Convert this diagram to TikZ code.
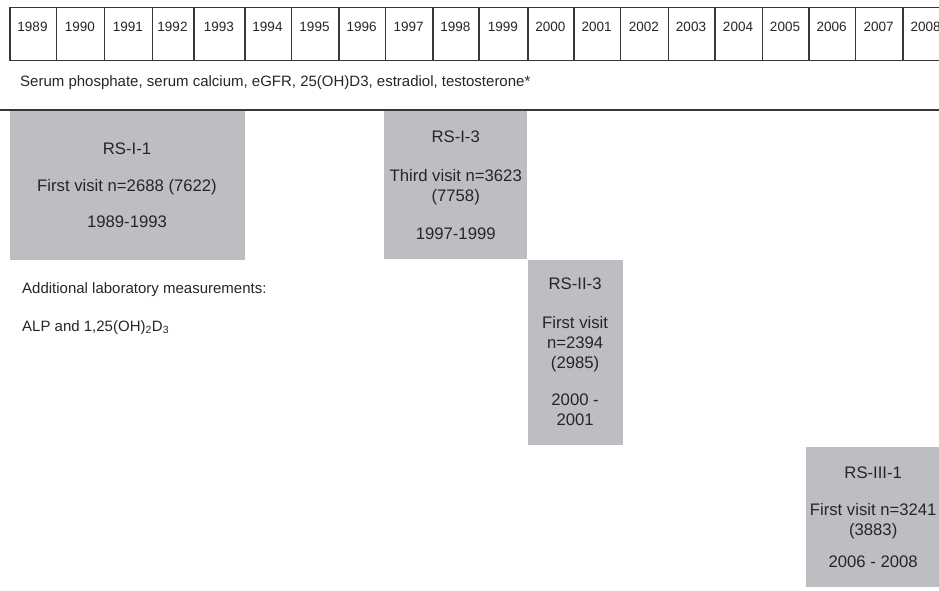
\documentclass[tikz,border=0pt]{standalone}
\usepackage{fontspec}
\setmainfont{Liberation Sans}
\usepackage{tikz}
\usetikzlibrary{positioning,calc}
\definecolor{cohortgray}{RGB}{189,190,194}
\definecolor{gridgray}{RGB}{55,55,55}

\begin{document}
\begin{tikzpicture}[
		x=1pt,y=-1pt,
		every node/.append style={inner sep=0pt,text=black!85},
		yearcell/.style={draw=gridgray,line width=1.3pt,anchor=north west,minimum height=53pt},
		yeartext/.style={anchor=base,font=\fontsize{13.5}{16}\selectfont},
		notetext/.style={anchor=base west,font=\fontsize{15}{18}\selectfont},
		cohort/.style={fill=cohortgray,anchor=north west,align=center,font=\fontsize{16.7}{20}\selectfont}
	]
	\useasboundingbox (0,0) rectangle (939,590);
	\clip (0,0) rectangle (939,590);
	% calendar row
	\foreach \yr/\xa/\xb in {1989/9.3/55.7,1990/55.7/104,1991/104/151.7,1992/151.7/193.3,1993/193.3/244.3,1994/244.3/290.7,1995/290.7/338.3,1996/338.3/385,1997/385/432.3,1998/432.3/478.3,1999/478.3/527.3,2000/527.3/573.3,2001/573.3/620,2002/620/667.7,2003/667.7/714.3,2004/714.3/761.7,2005/761.7/808.3,2006/808.3/855,2007/855/902.3,2008/902.3/949}{
		\node[yearcell,minimum width={\xb-\xa}] (c\yr) at (\xa,7) {};
		\node[yeartext] (t\yr) at ({(\xa+\xb)/2},31) {\yr};
	}
	\node[notetext] (serum) at (20,86) {Serum phosphate, serum calcium, eGFR, 25(OH)D3, estradiol, testosterone*};
	\coordinate (sepL) at (0,110);
	\coordinate (sepR) at (939,110);
	\draw[gridgray,line width=1.8pt] (sepL) -- (sepR);
	% study cohorts
	\node[cohort,minimum width=235pt,minimum height=149pt] (rsI1) at (c1989.west |- 0,111) {RS-I-1\\[17pt]First visit n=2688 (7622)\\[16pt]1989-1993};
	\node[cohort,minimum width=143pt,minimum height=148pt] (rsI3) at (384,111) {RS-I-3\\[19pt]Third visit n=3623\\(7758)\\[18pt]1997-1999};
	\node[cohort,minimum width=95pt,minimum height=185pt] (rsII3) at (rsI3.south east) {RS-II-3\\[19pt]First visit\\n=2394\\(2985)\\[17pt]2000 -\\2001};
	\node[cohort,minimum width=134pt,minimum height=140pt] (rsIII1) at (806,447) {RS-III-1\\[17pt]First visit n=3241\\(3883)\\[12pt]2006 - 2008};
	\node[notetext] (addlab) at (22,293.5) {Additional laboratory measurements:};
	\node[notetext] (alp) at (22,331.5) {ALP and 1,25(OH)\textsubscript{2}D\textsubscript{3}};
\end{tikzpicture}
\end{document}
